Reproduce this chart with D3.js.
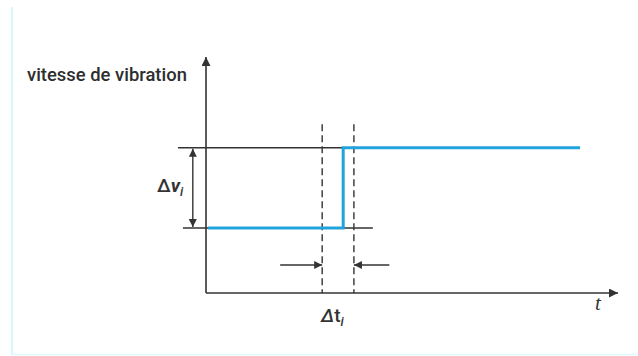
<!DOCTYPE html>
<html>
<head>
<meta charset="utf-8">
<script src="https://cdn.jsdelivr.net/npm/d3@7"></script>
<style>
  html, body { margin: 0; padding: 0; background: #fff; }
  svg { display: block; }
</style>
</head>
<body>
<svg id="chart" width="638" height="356"></svg>
<script>
// Step response of the vibration velocity (time, velocity), arbitrary units
const stepTimes  = [0.5, 33.3, 33.3, 90.8];
const stepValues = [27.5, 27.5, 61.5, 61.5];
// Reference levels before / after the step
const levels = [27.5, 61.5];
// Bounds of the transition window Δt_i
const windowTimes = [28.2, 35.9];

const axisLabelY = "vitesse de vibration";
const axisLabelX = "t";

const svg = d3.select("#chart");
const ink = "#333";
const blue = "#21a4dd";

const x = d3.scaleLinear().domain([0, 100]).range([206, 618]);
const y = d3.scaleLinear().domain([0, 100]).range([293, 57]);

// frame
svg.append("line").attr("x1", 12).attr("x2", 12).attr("y1", 7).attr("y2", 355)
  .attr("stroke", "#d2fafc").attr("stroke-width", 2);
svg.append("line").attr("x1", 12).attr("x2", 638).attr("y1", 354.5).attr("y2", 354.5)
  .attr("stroke", "#dafafc").attr("stroke-width", 1.5);

const defs = svg.append("defs");
function marker(id, w, h) {
  defs.append("marker").attr("id", id)
    .attr("viewBox", "0 0 10 10").attr("refX", 10).attr("refY", 5)
    .attr("markerWidth", w).attr("markerHeight", h)
    .attr("markerUnits", "userSpaceOnUse").attr("orient", "auto-start-reverse")
    .append("path").attr("d", "M0,0 L10,5 L0,10 Z").attr("fill", ink);
}
marker("bigArrow", 14, 9);
marker("smallArrow", 12, 8);

// axes
svg.append("line").attr("x1", x(0)).attr("x2", x(100)).attr("y1", y(0)).attr("y2", y(0))
  .attr("stroke", ink).attr("stroke-width", 1.6).attr("marker-end", "url(#bigArrow)");
svg.append("line").attr("x1", x(0)).attr("x2", x(0)).attr("y1", y(0)).attr("y2", y(100))
  .attr("stroke", ink).attr("stroke-width", 1.6).attr("marker-end", "url(#bigArrow)");

// reference levels
svg.append("line").attr("x1", x(-6.8)).attr("x2", x(40.5)).attr("y1", y(levels[1])).attr("y2", y(levels[1]))
  .attr("stroke", ink).attr("stroke-width", 1.5);
svg.append("line").attr("x1", x(-5.6)).attr("x2", x(40.5)).attr("y1", y(levels[0])).attr("y2", y(levels[0]))
  .attr("stroke", ink).attr("stroke-width", 1.5);

// Δv_i double arrow
svg.append("line").attr("x1", x(-3.2)).attr("x2", x(-3.2))
  .attr("y1", y(levels[1]) + 1).attr("y2", y(levels[0]) - 1)
  .attr("stroke", ink).attr("stroke-width", 1.4)
  .attr("marker-start", "url(#smallArrow)").attr("marker-end", "url(#smallArrow)");

// window bounds
windowTimes.forEach(t => {
  svg.append("line").attr("x1", x(t)).attr("x2", x(t)).attr("y1", y(71.5)).attr("y2", y(0))
    .attr("stroke", ink).attr("stroke-width", 1.4).attr("stroke-dasharray", "7,4");
});

// Δt_i arrows
svg.append("line").attr("x1", x(18)).attr("x2", x(windowTimes[0])).attr("y1", 265).attr("y2", 265)
  .attr("stroke", ink).attr("stroke-width", 1.4).attr("marker-end", "url(#smallArrow)");
svg.append("line").attr("x1", x(44.5)).attr("x2", x(windowTimes[1])).attr("y1", 265).attr("y2", 265)
  .attr("stroke", ink).attr("stroke-width", 1.4).attr("marker-end", "url(#smallArrow)");

// step curve
const line = d3.line().x(d => x(d[0])).y(d => y(d[1]));
svg.append("path").datum(d3.zip(stepTimes, stepValues))
  .attr("d", line).attr("fill", "none").attr("stroke", blue).attr("stroke-width", 3);

// labels
const yl = svg.append("text").attr("x", 27).attr("y", 81).text(axisLabelY)
  .attr("font-family", "Roboto, Arial, sans-serif").attr("font-weight", 500)
  .attr("font-size", 16).attr("fill", "#2e2e2e");
// size the axis title so it ends just short of the vertical axis
const w = yl.node().getComputedTextLength();
yl.attr("font-size", 16 * 160 / w);

svg.append("text").attr("x", 595).attr("y", 310).text(axisLabelX)
  .attr("font-family", "Liberation Serif, serif").attr("font-style", "italic").attr("font-size", 21).attr("fill", "#333");

const dv = svg.append("text").attr("x", 157).attr("y", 192)
  .attr("font-family", "Roboto, Arial, sans-serif").attr("font-weight", 500)
  .attr("font-size", 19).attr("fill", "#333");
dv.append("tspan").text("Δ");
dv.append("tspan").text("v").attr("font-style", "italic").attr("font-weight", "bold");
dv.append("tspan").text("i").attr("font-style", "italic").attr("font-size", 13).attr("dy", 4);

const dt = svg.append("text").attr("x", 321).attr("y", 322)
  .attr("font-family", "Roboto, Arial, sans-serif").attr("font-weight", 500)
  .attr("font-size", 19).attr("fill", "#333");
dt.append("tspan").text("Δ").attr("font-style", "italic");
dt.append("tspan").text("t");
dt.append("tspan").text("i").attr("font-style", "italic").attr("font-size", 13).attr("dy", 4);
</script>
</body>
</html>
